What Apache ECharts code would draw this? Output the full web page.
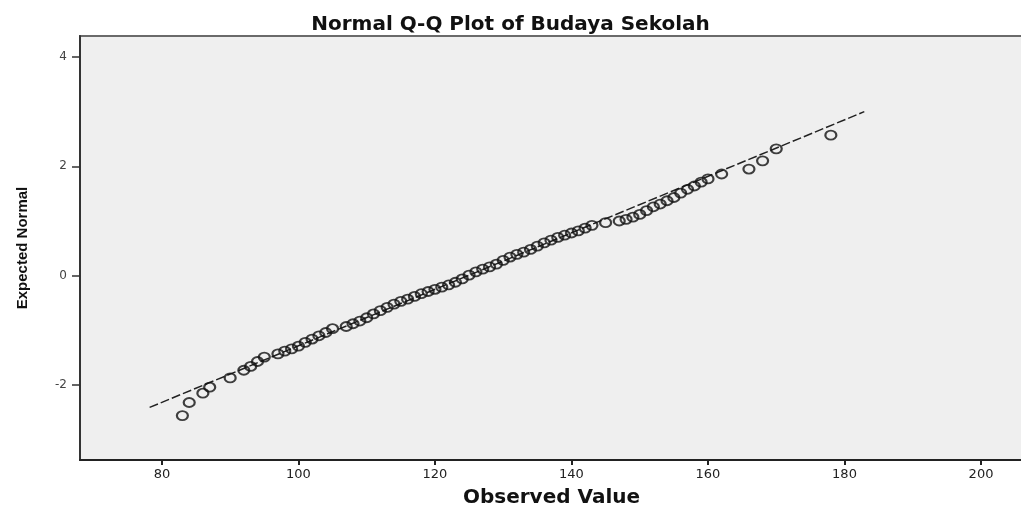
<!DOCTYPE html>
<html>
<head>
<meta charset="utf-8">
<title>Normal Q-Q Plot of Budaya Sekolah</title>
<script src="https://cdn.jsdelivr.net/npm/echarts@6/dist/echarts.min.js"></script>
<style>
	html, body { margin: 0; padding: 0; background: #fff; }
	#chart { width: 1021px; height: 509px; }
</style>
</head>
<body>
<div id="chart"></div>
<script>
// observed scores (one point per distinct value) and their expected normal quantiles
const observedValues = [
	83, 84, 86, 87, 90, 92, 93, 94, 95, 97, 98, 99, 100, 101, 102, 103, 104, 105,
	107, 108, 109, 110, 111, 112, 113, 114, 115, 116, 117, 118, 119, 120, 121, 122,
	123, 124, 125, 126, 127, 128, 129, 130, 131, 132, 133, 134, 135, 136, 137, 138,
	139, 140, 141, 142, 143, 145, 147, 148, 149, 150, 151, 152, 153, 154, 155, 156,
	157, 158, 159, 160, 162, 166, 168, 170, 178
];
const expectedNormal = [
	-2.56, -2.32, -2.15, -2.04, -1.87, -1.73, -1.66, -1.57, -1.49, -1.43, -1.38, -1.34, -1.29, -1.22, -1.16, -1.10, -1.04, -0.97,
	-0.93, -0.88, -0.83, -0.77, -0.70, -0.64, -0.58, -0.52, -0.47, -0.43, -0.38, -0.33, -0.29, -0.25, -0.21, -0.17,
	-0.12, -0.06, 0.01, 0.07, 0.12, 0.16, 0.21, 0.28, 0.34, 0.39, 0.43, 0.48, 0.54, 0.60, 0.65, 0.70,
	0.74, 0.78, 0.82, 0.87, 0.92, 0.97, 1.00, 1.03, 1.07, 1.12, 1.19, 1.26, 1.31, 1.37, 1.43, 1.51,
	1.58, 1.64, 1.71, 1.77, 1.86, 1.95, 2.10, 2.32, 2.57
];

// dashed reference line ends
const refLineX = [78.2, 182.9];
const refLineY = [-2.41, 3.0];

const xTicks = [80, 100, 120, 140, 160, 180, 200];
const yTicks = [-2, 0, 2, 4];

const chart = echarts.init(document.getElementById('chart'), null, { renderer: 'canvas' });

const points = observedValues.map((v, i) => [v, expectedNormal[i]]);
const refLine = refLineX.map((v, i) => [v, refLineY[i]]);

chart.setOption({
	animation: false,
	backgroundColor: '#ffffff',
	title: {
		text: 'Normal Q-Q Plot of Budaya Sekolah',
		left: 'center',
		top: 10,
		textStyle: {
			fontFamily: 'DejaVu Sans',
			fontWeight: 'bold',
			fontSize: 20,
			color: '#111'
		}
	},
	grid: {
		left: 80,
		right: -2,
		top: 36,
		bottom: 49,
		show: true,
		backgroundColor: '#efefef',
		borderColor: '#6a6a6a',
		borderWidth: 2,
		containLabel: false,
		outerBoundsMode: 'none'
	},
	xAxis: {
		type: 'value',
		min: 68,
		max: 206.15,
		name: 'Observed Value',
		nameLocation: 'middle',
		nameGap: 28,
		nameMoveOverlap: false,
		nameTextStyle: {
			fontFamily: 'DejaVu Sans',
			fontWeight: 'bold',
			fontSize: 20,
			color: '#111'
		},
		axisLine: { show: true, onZero: false, lineStyle: { color: '#222', width: 2 } },
		axisTick: { show: true, customValues: xTicks, length: 5, lineStyle: { color: '#222', width: 2 } },
		axisLabel: {
			customValues: xTicks,
			margin: 8,
			fontFamily: 'DejaVu Sans',
			fontSize: 13,
			color: '#222'
		},
		splitLine: { show: false }
	},
	yAxis: {
		type: 'value',
		min: -3.372,
		max: 4.384,
		name: 'Expected Normal',
		nameLocation: 'middle',
		nameGap: 50,
		nameMoveOverlap: false,
		nameTextStyle: {
			fontFamily: 'Liberation Sans',
			fontWeight: 'bold',
			fontSize: 15,
			color: '#111'
		},
		axisLine: { show: true, onZero: false, lineStyle: { color: '#333', width: 2 } },
		axisTick: { show: true, customValues: yTicks, length: 8, lineStyle: { color: '#333', width: 1.5 } },
		axisLabel: {
			customValues: yTicks,
			margin: 13,
			fontFamily: 'DejaVu Sans',
			fontSize: 12,
			color: '#444'
		},
		splitLine: { show: false }
	},
	series: [
		{
			type: 'line',
			data: refLine,
			symbol: 'none',
			silent: true,
			lineStyle: { color: '#222', width: 1.5, type: [9, 3] },
			z: 2
		},
		{
			type: 'scatter',
			data: points,
			symbol: 'circle',
			symbolSize: [11, 9],
			itemStyle: {
				color: 'rgba(0,0,0,0)',
				borderColor: '#111',
				borderWidth: 2
			},
			z: 3
		}
	]
});
</script>
</body>
</html>
